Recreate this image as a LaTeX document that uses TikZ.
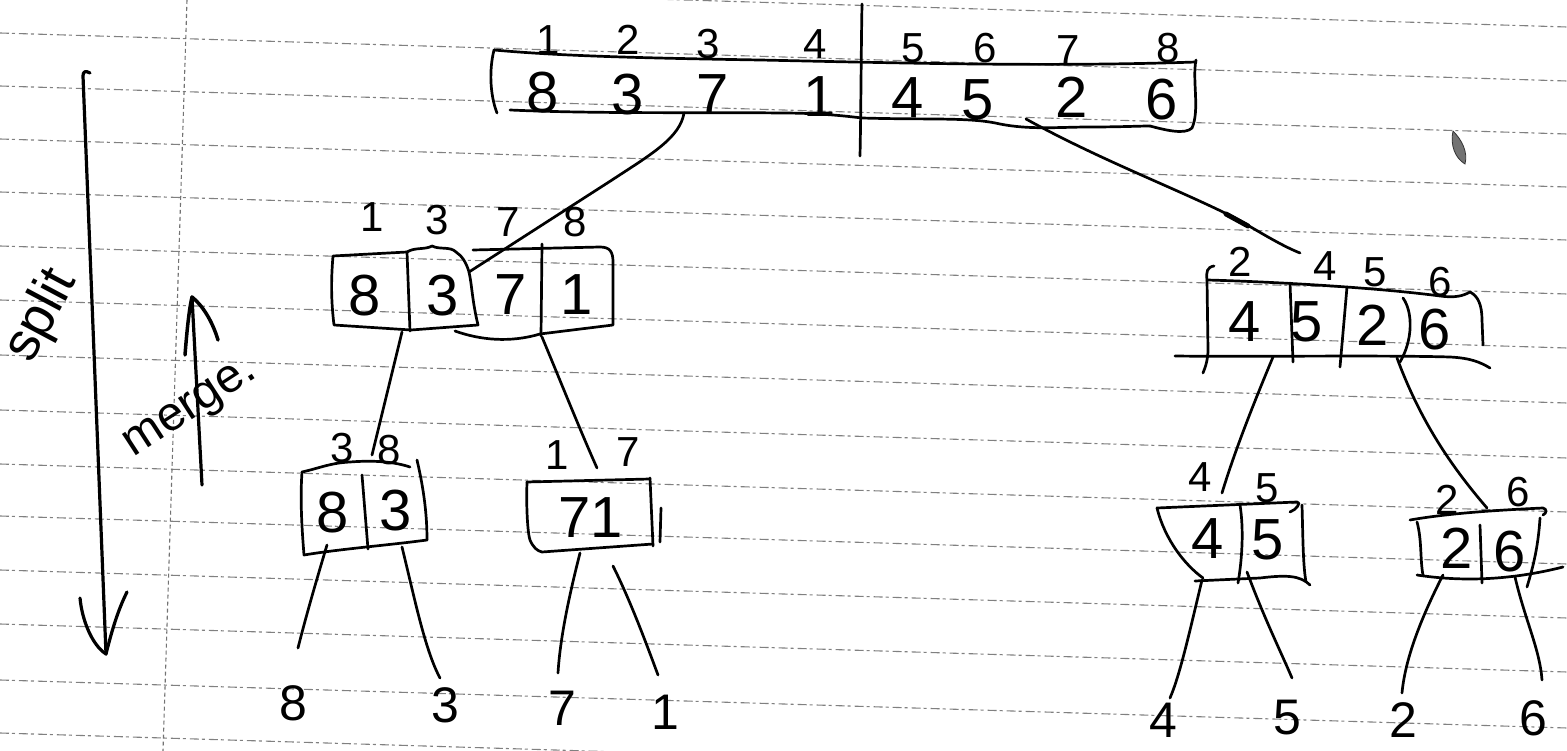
\documentclass[tikz,border=0pt]{standalone}
\usepackage{fontspec}
\setmainfont{Liberation Sans}
\begin{document}
\begin{tikzpicture}[x=1pt,y=-1pt]
\tikzset{
  ink/.style={line width=2.7pt, line cap=round, line join=round, black},
  rule/.style={line width=1.1pt, black!50, dash pattern=on 9pt off 3pt on 3pt off 4pt},
  margin/.style={line width=1.1pt, black!55, dash pattern=on 4pt off 3pt},
  val/.style={font=\fontsize{58}{60}\selectfont, inner sep=0pt},
  idx/.style={font=\fontsize{42}{44}\selectfont, inner sep=0pt},
  leaf/.style={font=\fontsize{50}{52}\selectfont, inner sep=0pt},
  side/.style={inner sep=0pt},
}
\useasboundingbox (0,0) rectangle (1567,751);
\fill[white] (0,0) rectangle (1567,751);

% ruled paper
\foreach \y in {-21,33,86,139,192,246,300,355,410,464,516,570,624,680,733}
  \draw[rule] (0,\y) -- (1567,{\y+48});
\draw[margin] (187,0) -- (163,751);

% ---------- full array ----------
\draw[ink] (494,50) .. controls (489,70) and (490,95) .. (497,113);
\draw[ink] (494,50) .. controls (560,56) and (640,58) .. (760,60)
           .. controls (900,63) and (1050,67) .. (1196,62);
\draw[ink] (1196,60) .. controls (1192,80) and (1200,110) .. (1192,128)
           .. controls (1185,135) and (1165,130) .. (1150,126);
\draw[ink] (510,110) .. controls (600,114) and (700,112) .. (780,113)
           .. controls (820,113) and (845,116) .. (862,118)
           .. controls (930,120) and (970,117) .. (1000,124)
           .. controls (1030,130) and (1060,127) .. (1090,127)
           .. controls (1120,127) and (1140,126) .. (1150,126);
\draw[ink] (862,4) .. controls (861,60) and (861,110) .. (860,156);

\node[idx] (ai1) at (548,40) {1};
\node[idx] (ai2) at (628,40) {2};
\node[idx] (ai3) at (708,44) {3};
\node[idx] (ai4) at (815,44) {4};
\node[idx] (ai5) at (913,48) {5};
\node[idx] (ai6) at (985,48) {6};
\node[idx] (ai7) at (1068,50) {7};
\node[idx] (ai8) at (1168,48) {8};

\node[val] (av1) at (543,93) {8};
\node[val] (av2) at (628,95) {3};
\node[val] (av3) at (713,95) {7};
\node[val] (av4) at (820,97) {1};
\node[val] (av5) at (908,98) {4};
\node[val] (av6) at (978,100) {5};
\node[val] (av7) at (1072,97) {2};
\node[val] (av8) at (1162,100) {6};

% ---------- left half 8 3 7 1 ----------
\draw[ink] (411,330) -- (334,325) .. controls (331,300) and (331,280) .. (333,256)
           -- (407,252) .. controls (415,247) and (425,250) .. (432,246)
           .. controls (440,250) and (450,246) .. (456,252)
           .. controls (462,256) and (466,262) .. (469,272)
           .. controls (472,285) and (472,300) .. (478,325) -- (411,330);
\draw[ink] (473,250) -- (600,247) .. controls (610,247) and (613,252) .. (613,262)
           -- (613,325) -- (540,334) .. controls (510,343) and (480,340) .. (455,331);
\draw[ink] (407,252) -- (410,331);
\draw[ink] (542,244) -- (541,336);

\node[idx] (bi1) at (372,217) {1};
\node[idx] (bi2) at (437,220) {3};
\node[idx] (bi3) at (508,222) {7};
\node[idx] (bi4) at (575,222) {8};
\node[val] (bv1) at (365,296) {8};
\node[val] (bv2) at (443,296) {3};
\node[val] (bv3) at (511,295) {7};
\node[val] (bv4) at (577,295) {1};

% ---------- right half 4 5 2 6 ----------
\draw[ink] (1214,266) .. controls (1207,267) and (1206,272) .. (1207,280)
           -- (1208,350) .. controls (1208,358) and (1206,366) .. (1203,373);
\draw[ink] (1207,280) .. controls (1280,282) and (1380,288) .. (1440,296)
           .. controls (1455,298) and (1463,296) .. (1470,292)
           .. controls (1478,296) and (1482,305) .. (1482,320) -- (1483,345);
\draw[ink] (1175,356) .. controls (1250,357) and (1380,355) .. (1450,357)
           .. controls (1470,358) and (1480,362) .. (1490,368);
\draw[ink] (1290,283) -- (1293,362);
\draw[ink] (1347,287) -- (1340,367);
\draw[ink] (1403,298) .. controls (1413,312) and (1413,340) .. (1400,362);

\node[idx] (ci1) at (1240,262) {2};
\node[idx] (ci2) at (1325,266) {4};
\node[idx] (ci3) at (1375,272) {5};
\node[idx] (ci4) at (1440,282) {6};
\node[val] (cv1) at (1245,322) {4};
\node[val] (cv2) at (1307,322) {5};
\node[val] (cv3) at (1373,325) {2};
\node[val] (cv4) at (1435,330) {6};

% ---------- pair 8 3 ----------
\draw[ink] (302,472) .. controls (320,468) and (330,463) .. (350,462)
           .. controls (375,460) and (395,462) .. (410,467);
\draw[ink] (302,472) .. controls (300,500) and (302,530) .. (304,555)
           .. controls (340,549) and (390,545) .. (427,540);
\draw[ink] (417,460) .. controls (424,490) and (427,515) .. (427,540);
\draw[ink] (362,475) -- (368,549);
\node[idx] (di1) at (342,448) {3};
\node[idx] (di2) at (389,450) {8};
\node[val] (dv1) at (333,513) {8};
\node[val] (dv2) at (396,511) {3};

% ---------- pair 7 1 ----------
\draw[ink] (527,482) -- (650,479);
\draw[ink] (527,482) .. controls (526,510) and (528,535) .. (530,540)
           .. controls (533,547) and (537,551) .. (542,552) -- (653,544);
\draw[ink] (650,478) -- (653,546);
\draw[ink] (661,508) -- (660,542);
\node[idx] (ei1) at (557,455) {1};
\node[idx] (ei2) at (628,452) {7};
\node[val] (ev) at (591,518) {71};

% ---------- pair 4 5 ----------
\draw[ink] (1157,508) -- (1297,502) .. controls (1302,502) and (1296,510) .. (1290,512);
\draw[ink] (1157,508) .. controls (1165,540) and (1185,565) .. (1203,578);
\draw[ink] (1195,581) -- (1260,578) .. controls (1285,575) and (1300,575) .. (1310,585);
\draw[ink] (1302,505) .. controls (1303,540) and (1303,565) .. (1306,582);
\draw[ink] (1240,505) .. controls (1244,530) and (1242,560) .. (1238,583);
\node[idx] (fi1) at (1200,477) {4};
\node[idx] (fi2) at (1267,488) {5};
\node[val] (fv1) at (1208,539) {4};
\node[val] (fv2) at (1268,540) {5};

% ---------- pair 2 6 ----------
\draw[ink] (1410,520) .. controls (1450,513) and (1500,510) .. (1543,508)
           .. controls (1547,509) and (1547,513) .. (1543,515);
\draw[ink] (1417,522) .. controls (1422,540) and (1420,560) .. (1423,575);
\draw[ink] (1417,575) .. controls (1450,580) and (1500,583) .. (1563,567);
\draw[ink] (1540,518) .. controls (1538,550) and (1532,570) .. (1527,587);
\draw[ink] (1480,525) -- (1482,583);
\node[idx] (gi1) at (1447,500) {2};
\node[idx] (gi2) at (1518,492) {6};
\node[val] (gv1) at (1457,548) {2};
\node[val] (gv2) at (1510,552) {6};

% ---------- single elements ----------
\node[leaf] (l1) at (293,703) {8};
\node[leaf] (l2) at (445,705) {3};
\node[leaf] (l3) at (562,708) {7};
\node[leaf] (l4) at (665,712) {1};
\node[leaf] (l5) at (1163,720) {4};
\node[leaf] (l6) at (1287,718) {5};
\node[leaf] (l7) at (1403,720) {2};
\node[leaf] (l8) at (1533,718) {6};

% ---------- connectors ----------
\coordinate (a-dl) at (684,113);
\coordinate (a-dr) at (1026,119);
\coordinate (b-up) at (469,272);
\coordinate (c-up) at (1300,253);
\coordinate (b-dl) at (402,332);
\coordinate (b-dr) at (542,337);
\coordinate (d-up) at (372,455);
\coordinate (e-up) at (597,468);
\coordinate (c-dl) at (1273,357);
\coordinate (c-dr) at (1397,358);
\coordinate (f-up) at (1222,493);
\coordinate (g-up) at (1487,508);
\coordinate (d-dl) at (327,545);
\coordinate (d-dr) at (402,547);
\coordinate (e-dl) at (580,553);
\coordinate (e-dr) at (613,566);
\coordinate (f-dl) at (1202,580);
\coordinate (f-dr) at (1247,572);
\coordinate (g-dl) at (1443,575);
\coordinate (g-dr) at (1515,577);
\coordinate (l1-up) at (298,648);
\coordinate (l2-up) at (440,678);
\coordinate (l3-up) at (558,673);
\coordinate (l4-up) at (658,675);
\coordinate (l5-up) at (1170,698);
\coordinate (l6-up) at (1292,678);
\coordinate (l7-up) at (1402,693);
\coordinate (l8-up) at (1542,680);

\draw[ink] (a-dl) .. controls (680,138) and (650,155) .. (612,180) -- (b-up);
\draw[ink] (a-dr) .. controls (1100,160) and (1180,190) .. (1235,218)
           .. controls (1260,232) and (1280,245) .. (c-up);
\draw[line width=5pt, line cap=round] (1226,214) -- (1248,226);
\draw[ink] (b-dl) -- (d-up);
\draw[ink] (b-dr) .. controls (560,380) and (580,430) .. (e-up);
\draw[ink] (c-dl) .. controls (1255,400) and (1235,450) .. (f-up);
\draw[ink] (c-dr) .. controls (1420,420) and (1450,465) .. (g-up);
\draw[ink] (d-dl) .. controls (315,585) and (305,620) .. (l1-up);
\draw[ink] (d-dr) .. controls (415,600) and (425,650) .. (l2-up);
\draw[ink] (e-dl) .. controls (568,600) and (560,640) .. (l3-up);
\draw[ink] (e-dr) .. controls (630,600) and (645,640) .. (l4-up);
\draw[ink] (f-dl) .. controls (1190,630) and (1180,675) .. (l5-up);
\draw[ink] (f-dr) .. controls (1265,620) and (1280,650) .. (l6-up);
\draw[ink] (g-dl) .. controls (1420,620) and (1405,660) .. (l7-up);
\draw[ink] (g-dr) .. controls (1525,620) and (1540,650) .. (l8-up);

% ---------- split / merge arrows ----------
\node[side, font=\fontsize{54}{56}\selectfont, rotate=62] (split) at (42,316) {split};
\node[side, font=\fontsize{48}{50}\selectfont, rotate=33] (merge) at (192,410) {merge.};

\coordinate (s-top) at (83,76);
\coordinate (s-tip) at (106,654);
\draw[ink, line width=3.2pt] (90,73) .. controls (85,70) and (83,72) .. (s-top) -- (s-tip);
\draw[ink, line width=3.2pt] (80,598) .. controls (82,620) and (92,645) .. (s-tip)
           .. controls (112,630) and (118,610) .. (127,592);

\coordinate (m-foot) at (202,485);
\coordinate (m-tip) at (192,297);
\draw[ink, line width=3.2pt] (m-foot) -- (m-tip);
\draw[ink, line width=3.5pt] (185,355) .. controls (187,330) and (189,310) .. (m-tip)
           .. controls (202,305) and (212,320) .. (218,340);

% ink spot
\fill[black!55, draw=black!80, line width=0.8pt] (1453,131) .. controls (1462,140) and (1468,152) .. (1465,164)
     .. controls (1455,158) and (1450,145) .. (1453,131);
\end{tikzpicture}
\end{document}
